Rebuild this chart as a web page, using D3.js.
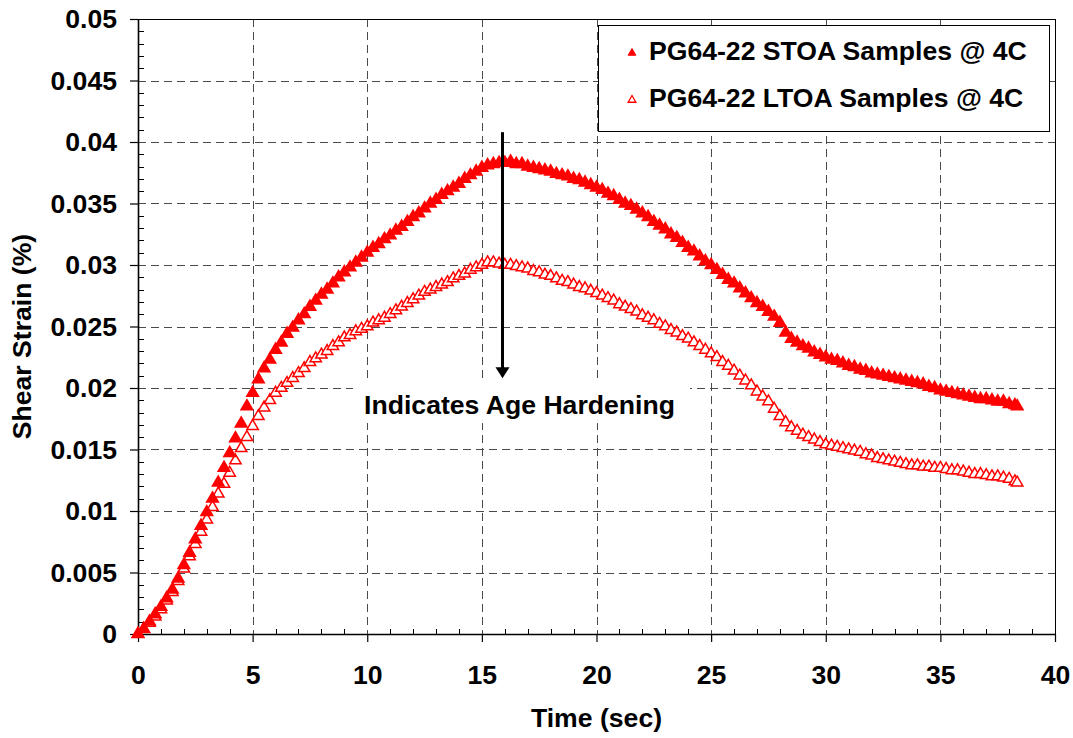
<!DOCTYPE html>
<html>
<head>
<meta charset="utf-8">
<script src="https://cdn.jsdelivr.net/npm/d3@7/dist/d3.min.js"></script>
<style>
  html, body { margin: 0; padding: 0; background: #fff; }
  svg { display: block; }
  text { font-family: "Liberation Sans", Arial, sans-serif; font-weight: bold; fill: #000; }
</style>
</head>
<body>
<svg id="chart" width="1073" height="738"></svg>
<script>
// ---- data ----
const times = [0,0.25,0.5,0.75,1,1.25,1.5,1.75,2,2.25,2.5,2.75,3,3.25,3.5,3.75,4,4.25,4.5,4.75,
5,5.25,5.5,5.75,6,6.25,6.5,6.75,7,7.25,7.5,7.75,8,8.25,8.5,8.75,9,9.25,9.5,9.75,
10,10.25,10.5,10.75,11,11.25,11.5,11.75,12,12.25,12.5,12.75,13,13.25,13.5,13.75,14,14.25,14.5,14.75,
15,15.25,15.5,15.75,16,16.25,16.5,16.75,17,17.25,17.5,17.75,18,18.25,18.5,18.75,19,19.25,19.5,19.75,
20,20.25,20.5,20.75,21,21.25,21.5,21.75,22,22.25,22.5,22.75,23,23.25,23.5,23.75,24,24.25,24.5,24.75,
25,25.25,25.5,25.75,26,26.25,26.5,26.75,27,27.25,27.5,27.75,28,28.25,28.5,28.75,29,29.25,29.5,29.75,
30,30.25,30.5,30.75,31,31.25,31.5,31.75,32,32.25,32.5,32.75,33,33.25,33.5,33.75,34,34.25,34.5,34.75,
35,35.25,35.5,35.75,36,36.25,36.5,36.75,37,37.25,37.5,37.75,38,38.25,38.35];

const stoa = [0,0.0004,0.0010,0.0016,0.0022,0.0029,0.0036,0.0045,0.0056,0.0066,0.0077,0.0088,0.0099,0.0110,0.0123,0.0135,0.0147,0.0159,0.0171,0.0185,
0.0196,0.0207,0.0216,0.0223,0.0231,0.0237,0.0244,0.0249,0.0255,0.0260,0.0266,0.0271,0.0276,0.0280,0.0285,0.0290,0.0294,0.0298,0.0302,0.0306,
0.0310,0.0314,0.0317,0.0321,0.0324,0.0328,0.0331,0.0335,0.0339,0.0342,0.0346,0.0350,0.0353,0.0357,0.0360,0.0363,0.0366,0.0370,0.0373,0.0376,
0.0379,0.0381,0.0382,0.0383,0.0383,0.0384,0.0382,0.0382,0.0380,0.0379,0.0378,0.0377,0.0376,0.0374,0.0373,0.0372,0.0370,0.0369,0.0367,0.0365,
0.0363,0.0361,0.0358,0.0356,0.0353,0.0350,0.0348,0.0345,0.0342,0.0339,0.0335,0.0332,0.0329,0.0325,0.0322,0.0318,0.0314,0.0311,0.0307,0.0303,
0.0300,0.0296,0.0292,0.0288,0.0285,0.0281,0.0277,0.0273,0.0269,0.0266,0.0262,0.0258,0.0253,0.0245,0.0240,0.0237,0.0234,0.0232,0.0229,0.0227,
0.0225,0.0223,0.0222,0.0220,0.0218,0.0217,0.0215,0.0214,0.0212,0.0211,0.0210,0.0209,0.0208,0.0207,0.0206,0.0205,0.0204,0.0203,0.0201,0.0200,
0.0198,0.0197,0.0196,0.0195,0.0194,0.0193,0.0192,0.0191,0.0191,0.0190,0.0189,0.0189,0.0187,0.0186,0.0185];

const ltoa = [0,0.0004,0.0009,0.0014,0.0020,0.0027,0.0034,0.0043,0.0053,0.0063,0.0073,0.0083,0.0093,0.0103,0.0114,0.0122,0.0131,0.0141,0.0151,0.0160,
0.0169,0.0177,0.0184,0.0190,0.0196,0.0200,0.0204,0.0208,0.0212,0.0216,0.0221,0.0224,0.0227,0.0230,0.0234,0.0237,0.0241,0.0243,0.0246,0.0248,
0.0250,0.0253,0.0255,0.0257,0.0260,0.0263,0.0266,0.0269,0.0272,0.0275,0.0278,0.0280,0.0282,0.0284,0.0286,0.0289,0.0291,0.0293,0.0296,0.0298,
0.0300,0.0302,0.0302,0.0301,0.0300,0.0300,0.0299,0.0298,0.0297,0.0295,0.0294,0.0292,0.0291,0.0289,0.0287,0.0286,0.0284,0.0282,0.0281,0.0279,
0.0277,0.0275,0.0273,0.0271,0.0268,0.0266,0.0264,0.0262,0.0259,0.0257,0.0255,0.0252,0.0250,0.0247,0.0245,0.0242,0.0240,0.0237,0.0234,0.0231,
0.0228,0.0225,0.0221,0.0218,0.0214,0.0210,0.0206,0.0202,0.0197,0.0193,0.0189,0.0183,0.0177,0.0172,0.0168,0.0165,0.0162,0.0160,0.0158,0.0156,
0.0154,0.0153,0.0152,0.0151,0.0150,0.0149,0.0148,0.0146,0.0145,0.0143,0.0142,0.0141,0.0140,0.0139,0.0138,0.0137,0.0137,0.0136,0.0136,0.0135,
0.0135,0.0134,0.0133,0.0133,0.0132,0.0131,0.0130,0.0130,0.0129,0.0128,0.0128,0.0127,0.0126,0.0124,0.0123];

const seriesNames = ["PG64-22 STOA Samples @ 4C", "PG64-22 LTOA Samples @ 4C"];
const xTicks = [0,5,10,15,20,25,30,35,40];
const yTicks = [0,0.005,0.01,0.015,0.02,0.025,0.03,0.035,0.04,0.045,0.05];
const xTitle = "Time (sec)";
const yTitle = "Shear Strain (%)";
const annotationText = "Indicates Age Hardening";
const arrowTime = 15.9, arrowFrom = 0.0408, arrowTo = 0.0208;

// ---- layout ----
const svg = d3.select("#chart");
const L = 138, R = 1055, T = 19, B = 634;
const x = d3.scaleLinear().domain([0, 40]).range([L, R]);
const y = d3.scaleLinear().domain([0, 0.05]).range([B, T]);
const red = "#ff0000";
const FS = 26.6;
const fmt = d => String(+d.toFixed(3));

// gridlines
const grid = svg.append("g").attr("stroke", "#4a4a4a").attr("stroke-width", 1).attr("stroke-dasharray", "8,5");
grid.selectAll(".gx").data(xTicks.slice(1, -1)).join("line")
  .attr("x1", d => Math.round(x(d)) + 0.5).attr("x2", d => Math.round(x(d)) + 0.5)
  .attr("y1", T).attr("y2", B);
grid.selectAll(".gy").data(yTicks.slice(1, -1)).join("line")
  .attr("y1", d => Math.round(y(d)) + 0.5).attr("y2", d => Math.round(y(d)) + 0.5)
  .attr("x1", L).attr("x2", R);

// frame top/right
svg.append("line").attr("x1", L).attr("x2", R).attr("y1", T + 0.5).attr("y2", T + 0.5).attr("stroke", "#000");
svg.append("line").attr("x1", R + 0.5).attr("x2", R + 0.5).attr("y1", T).attr("y2", B).attr("stroke", "#000");

// annotation label with white box
svg.append("rect").attr("x", 353).attr("y", 381).attr("width", 337).attr("height", 42).attr("fill", "#fff");
svg.append("text").attr("x", x(arrowTime) + 17).attr("y", 414).attr("text-anchor", "middle")
  .attr("font-size", FS).text(annotationText);

// minor ticks
const minorX = d3.range(0, 40.001, 1).filter(v => v % 5 !== 0);
const minorY = d3.range(0, 0.0501, 0.001).filter(v => Math.abs(v / 0.005 - Math.round(v / 0.005)) > 1e-6);
svg.append("g").attr("stroke", "#000").selectAll("line").data(minorX).join("line")
  .attr("x1", d => Math.round(x(d)) + 0.5).attr("x2", d => Math.round(x(d)) + 0.5)
  .attr("y1", B).attr("y2", B - 5);
svg.append("g").attr("stroke", "#000").selectAll("line").data(minorY).join("line")
  .attr("y1", d => Math.round(y(d)) + 0.5).attr("y2", d => Math.round(y(d)) + 0.5)
  .attr("x1", L).attr("x2", L + 6);

// axes
const xAxis = svg.append("g").attr("transform", `translate(0,${B})`)
  .call(d3.axisBottom(x).tickValues(xTicks).tickFormat(d3.format("d")).tickSize(8).tickSizeOuter(0).tickPadding(23));
const yAxis = svg.append("g").attr("transform", `translate(${L},0)`)
  .call(d3.axisLeft(y).tickValues(yTicks).tickFormat(fmt).tickSize(8).tickSizeOuter(0).tickPadding(13));
[xAxis, yAxis].forEach(a => {
  a.select(".domain").attr("stroke", "#000").attr("stroke-width", 1.6);
  a.selectAll(".tick line").attr("stroke", "#000").attr("stroke-width", 1.2);
  a.selectAll(".tick text").attr("font-size", FS).attr("font-family", "Liberation Sans, Arial, sans-serif")
    .attr("font-weight", "bold").attr("fill", "#000");
});

// data markers
const sym = (s) => d3.symbol().type(d3.symbolTriangle).size(s)();
const ptsS = times.map((t, i) => [t, stoa[i]]);
const ptsL = times.map((t, i) => [t, ltoa[i]]);
svg.append("g").selectAll("path").data(ptsL).join("path")
  .attr("d", sym(56)).attr("transform", d => `translate(${x(d[0])},${y(d[1])})`)
  .attr("fill", "#fff").attr("stroke", red).attr("stroke-width", 1.5);
svg.append("g").selectAll("path").data(ptsS).join("path")
  .attr("d", sym(58)).attr("transform", d => `translate(${x(d[0])},${y(d[1])})`)
  .attr("fill", red).attr("stroke", red).attr("stroke-width", 1.6);

// arrow
svg.append("line").attr("x1", x(arrowTime)).attr("x2", x(arrowTime))
  .attr("y1", y(arrowFrom)).attr("y2", y(arrowTo) - 8).attr("stroke", "#000").attr("stroke-width", 3);
const ax = x(arrowTime), ay = y(arrowTo);
svg.append("path").attr("d", `M${ax - 7},${ay - 11} L${ax + 7},${ay - 11} L${ax},${ay} Z`).attr("fill", "#000");

// legend
const lg = svg.append("g");
lg.append("rect").attr("x", 598.5).attr("y", 25.5).attr("width", 451).attr("height", 106)
  .attr("fill", "#fff").attr("stroke", "#000").attr("stroke-width", 1);
seriesNames.forEach((name, i) => {
  const cy = 53 + i * 47;
  lg.append("path").attr("d", sym(26)).attr("transform", `translate(632,${cy})`)
    .attr("fill", i === 0 ? red : "#fff").attr("stroke", red).attr("stroke-width", i === 0 ? 1 : 1.3);
  lg.append("text").attr("x", 649).attr("y", cy + 7).attr("font-size", FS).text(name);
});

// axis titles
svg.append("text").attr("x", (L + R) / 2).attr("y", 727).attr("text-anchor", "middle")
  .attr("font-size", FS).text(xTitle);
svg.append("text").attr("transform", `translate(31,${(T + B) / 2 + 10}) rotate(-90)`)
  .attr("text-anchor", "middle").attr("font-size", FS).text(yTitle);
</script>
</body>
</html>
